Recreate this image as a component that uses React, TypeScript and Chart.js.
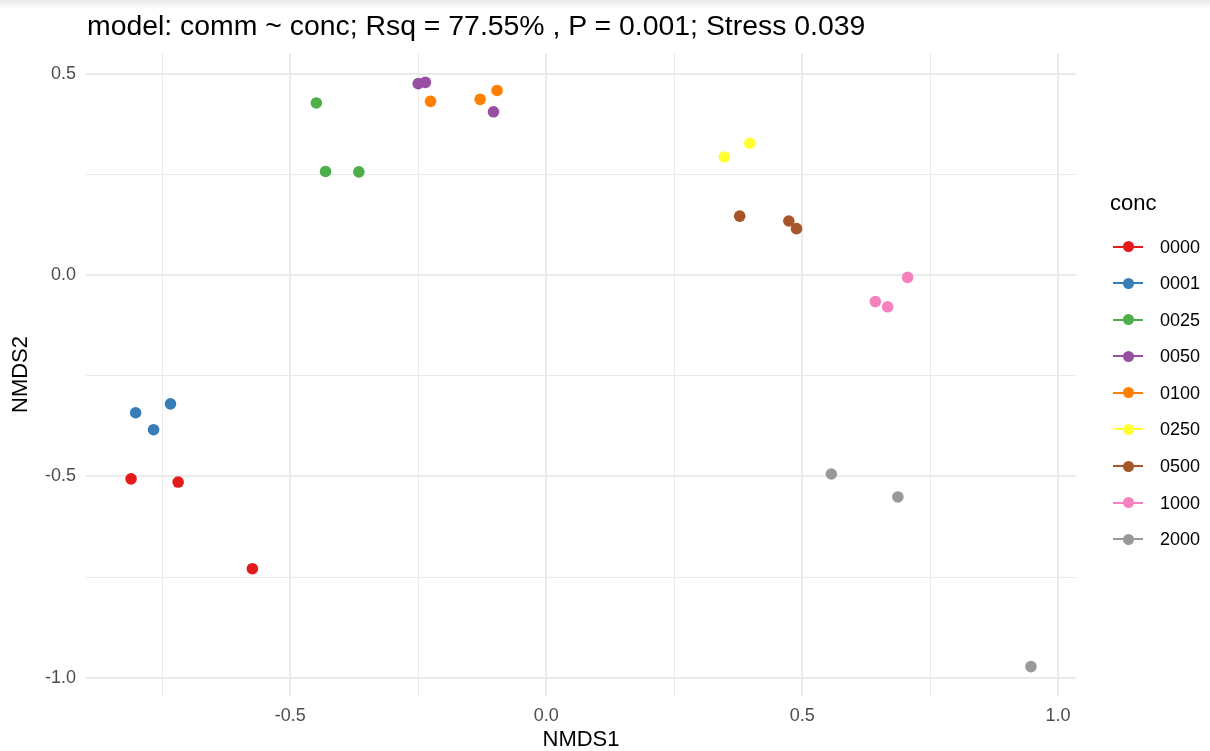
import React, { useEffect, useRef } from 'react';
import { Chart, registerables } from 'chart.js';

Chart.register(...registerables);

// ---- data ----
const titleText = 'model: comm ~ conc; Rsq = 77.55% , P = 0.001; Stress 0.039';
const xAxisTitle = 'NMDS1';
const yAxisTitle = 'NMDS2';
const legendTitle = 'conc';

const concLevels = ['0000', '0001', '0025', '0050', '0100', '0250', '0500', '1000', '2000'];
const levelColors = ['#E41A1C', '#377EB8', '#4DAF4A', '#984EA3', '#FF7F00', '#FFFF33', '#A65628', '#F781BF', '#999999'];

const nmds1_0000 = [-0.811, -0.719, -0.574];
const nmds2_0000 = [-0.506, -0.514, -0.729];
const nmds1_0001 = [-0.802, -0.767, -0.734];
const nmds2_0001 = [-0.342, -0.384, -0.32];
const nmds1_0025 = [-0.449, -0.431, -0.366];
const nmds2_0025 = [0.427, 0.257, 0.256];
const nmds1_0050 = [-0.25, -0.236, -0.103];
const nmds2_0050 = [0.475, 0.478, 0.405];
const nmds1_0100 = [-0.226, -0.129, -0.096];
const nmds2_0100 = [0.431, 0.436, 0.458];
const nmds1_0250 = [0.348, 0.398];
const nmds2_0250 = [0.293, 0.327];
const nmds1_0500 = [0.378, 0.474, 0.489];
const nmds2_0500 = [0.146, 0.134, 0.115];
const nmds1_1000 = [0.706, 0.643, 0.667];
const nmds2_1000 = [-0.006, -0.066, -0.079];
const nmds1_2000 = [0.557, 0.687, 0.947];
const nmds2_2000 = [-0.494, -0.551, -0.972];

const nmds1ByLevel = [nmds1_0000, nmds1_0001, nmds1_0025, nmds1_0050, nmds1_0100, nmds1_0250, nmds1_0500, nmds1_1000, nmds1_2000];
const nmds2ByLevel = [nmds2_0000, nmds2_0001, nmds2_0025, nmds2_0050, nmds2_0100, nmds2_0250, nmds2_0500, nmds2_1000, nmds2_2000];

const xGridValues = [-0.75, -0.5, -0.25, 0, 0.25, 0.5, 0.75, 1.0];
const xMajorValues = [-0.5, 0, 0.5, 1.0];
const xTickLabels = ['-0.5', '0.0', '0.5', '1.0'];
const yGridValues = [-1.0, -0.75, -0.5, -0.25, 0, 0.25, 0.5];
const yMajorValues = [-1.0, -0.5, 0, 0.5];
const yTickLabels = ['-1.0', '-0.5', '0.0', '0.5'];

const xMin = -0.899;
const xMax = 1.035;
const yMin = -1.045;
const yMax = 0.551;

const FONT = '"Liberation Sans", Arial, Helvetica, sans-serif';

const near = (a: number, b: number) => Math.abs(a - b) < 1e-6;
const majorIndex = (arr: number[], v: number) => arr.findIndex((m) => near(m, v));

export default function App() {
  const canvasRef = useRef<HTMLCanvasElement | null>(null);

  useEffect(() => {
    if (!canvasRef.current) return;
    const datasets = concLevels.map((lvl, i) => ({
      label: lvl,
      data: nmds1ByLevel[i].map((x, j) => ({ x, y: nmds2ByLevel[i][j] })),
      backgroundColor: levelColors[i],
      borderColor: levelColors[i],
      borderWidth: 0,
      pointRadius: 5.8,
      pointHoverRadius: 5.8,
    }));

    const chart = new Chart(canvasRef.current, {
      type: 'scatter',
      data: { datasets },
      options: {
        animation: false,
        responsive: false,
        maintainAspectRatio: false,
        layout: { padding: { top: 53, right: 134, left: 0, bottom: 0 } },
        plugins: {
          legend: { display: false },
          tooltip: { enabled: false },
          title: { display: false },
        },
        scales: {
          x: {
            type: 'linear',
            min: xMin,
            max: xMax,
            afterBuildTicks: (scale: any) => {
              scale.ticks = xGridValues.map((v) => ({ value: v }));
            },
            afterFit: (scale: any) => {
              scale.height = 55;
            },
            border: { display: false },
            grid: {
              color: '#EBEBEB',
              drawTicks: false,
              lineWidth: (ctx: any) => (ctx.tick && majorIndex(xMajorValues, ctx.tick.value) >= 0 ? 2 : 1),
            },
            ticks: {
              autoSkip: false,
              maxRotation: 0,
              padding: 9,
              color: '#4D4D4D',
              font: { family: FONT, size: 18 },
              callback: (value: any) => {
                const k = majorIndex(xMajorValues, Number(value));
                return k >= 0 ? xTickLabels[k] : '';
              },
            },
            title: {
              display: true,
              text: xAxisTitle,
              color: '#000000',
              font: { family: FONT, size: 22, lineHeight: 1 },
              padding: { top: 0, bottom: 0 },
            },
          },
          y: {
            type: 'linear',
            min: yMin,
            max: yMax,
            afterBuildTicks: (scale: any) => {
              scale.ticks = yGridValues.map((v) => ({ value: v }));
            },
            afterFit: (scale: any) => {
              scale.width = 86;
            },
            border: { display: false },
            grid: {
              color: '#EBEBEB',
              drawTicks: false,
              lineWidth: (ctx: any) => (ctx.tick && majorIndex(yMajorValues, ctx.tick.value) >= 0 ? 2 : 1),
            },
            ticks: {
              autoSkip: false,
              padding: 10,
              color: '#4D4D4D',
              font: { family: FONT, size: 18 },
              callback: (value: any) => {
                const k = majorIndex(yMajorValues, Number(value));
                return k >= 0 ? yTickLabels[k] : '';
              },
            },
            title: {
              display: true,
              text: yAxisTitle,
              color: '#000000',
              font: { family: FONT, size: 22, lineHeight: 1 },
              padding: { top: 10, bottom: 0 },
            },
          },
        },
      },
    });
    return () => chart.destroy();
  }, []);

  const legendTop = 246.7;
  const legendStep = 36.55;

  return (
    <div style={{ position: 'fixed', left: 0, top: 0, width: 1210, height: 751, background: '#ffffff', overflow: 'hidden', fontFamily: FONT }}>
      <div style={{ position: 'absolute', left: 0, top: 0, width: 1210, height: 9, background: 'linear-gradient(#e9e9e9, #ffffff)' }} />
      <canvas ref={canvasRef} width={1210} height={751} style={{ position: 'absolute', left: 0, top: 0, width: 1210, height: 751 }} />
      <div style={{ position: 'absolute', left: 87, top: 10, height: 30, lineHeight: '30px', fontSize: 28.4, color: '#000', whiteSpace: 'nowrap' }}>
        {titleText}
      </div>
      <div style={{ position: 'absolute', left: 1110, top: 191, height: 24, lineHeight: '24px', fontSize: 22, color: '#000' }}>
        {legendTitle}
      </div>
      {concLevels.map((lvl, i) => (
        <div
          key={lvl}
          style={{ position: 'absolute', left: 1113, top: legendTop + i * legendStep - 11, height: 22, display: 'flex', alignItems: 'center' }}
        >
          <div style={{ position: 'relative', width: 30, height: 22 }}>
            <div style={{ position: 'absolute', left: 0, top: 10, width: 30, height: 2, background: levelColors[i] }} />
            <div style={{ position: 'absolute', left: 9.5, top: 5.5, width: 11, height: 11, borderRadius: '50%', background: levelColors[i] }} />
          </div>
          <div style={{ marginLeft: 17, fontSize: 18, lineHeight: '22px', color: '#000' }}>{lvl}</div>
        </div>
      ))}
    </div>
  );
}
